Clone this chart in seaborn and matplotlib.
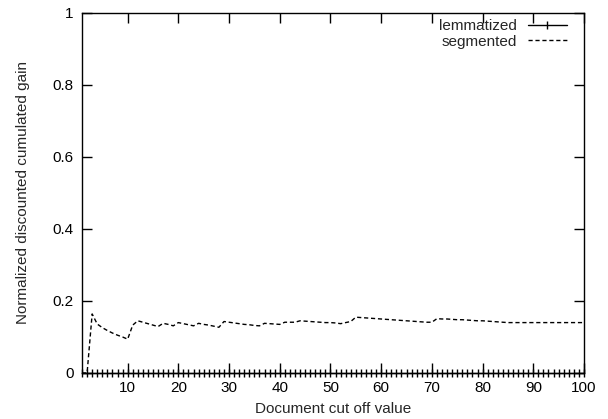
import numpy as np
import pandas as pd
import matplotlib
matplotlib.use("Agg")
import matplotlib.pyplot as plt
import seaborn as sns
from matplotlib.ticker import FuncFormatter

# document cut off values 1..100
cutoff = list(range(1, 101))

# lemmatized run scored zero everywhere
lemmatized = [0.0] * 100

# segmented run
segmented = [
    0.000, 0.000, 0.164, 0.136, 0.126, 0.118, 0.111, 0.105, 0.100, 0.094,
    0.133, 0.145, 0.141, 0.137, 0.133, 0.129, 0.138, 0.135, 0.131, 0.140,
    0.137, 0.134, 0.131, 0.138, 0.135, 0.133, 0.130, 0.127, 0.143, 0.141,
    0.139, 0.137, 0.135, 0.134, 0.132, 0.131, 0.138, 0.137, 0.136, 0.135,
    0.141, 0.141, 0.141, 0.145, 0.144, 0.143, 0.142, 0.141, 0.140, 0.140,
    0.139, 0.137, 0.140, 0.143, 0.155, 0.154, 0.153, 0.152, 0.151, 0.150,
    0.149, 0.148, 0.147, 0.146, 0.145, 0.144, 0.143, 0.142, 0.141, 0.141,
    0.151, 0.150, 0.150, 0.149, 0.148, 0.148, 0.147, 0.146, 0.145, 0.145,
    0.144, 0.143, 0.142, 0.141, 0.140, 0.140, 0.140, 0.140, 0.140, 0.140,
    0.140, 0.140, 0.140, 0.140, 0.140, 0.140, 0.140, 0.140, 0.140, 0.140,
]

x_ticks = [10, 20, 30, 40, 50, 60, 70, 80, 90, 100]
y_ticks = [0, 0.2, 0.4, 0.6, 0.8, 1.0]

sns.set_style("ticks")
plt.rcParams['font.family'] = ['Liberation Sans', 'DejaVu Sans']
plt.rcParams['font.size'] = 11

df = pd.DataFrame({"cutoff": cutoff, "lemmatized": lemmatized, "segmented": segmented})

fig = plt.figure(figsize=(6.08, 4.19), dpi=100)
ax = fig.add_axes([0.1349, 0.1098, 0.8256, 0.8592])

sns.lineplot(data=df, x="cutoff", y="segmented", ax=ax, color="black", lw=1,
             label="segmented")
ax.lines[0].set_dashes((3, 2))
sns.lineplot(data=df, x="cutoff", y="lemmatized", ax=ax, color="black", lw=1,
             marker="|", markersize=5.5, markeredgewidth=1,
             markeredgecolor="black", label="lemmatized")
ax.lines[1].set_clip_on(False)
ax.lines[1].set_zorder(5)

ax.set_xlim(1, 100)
ax.set_ylim(0, 1)
ax.set_xticks(x_ticks)
ax.set_yticks(y_ticks)
ax.yaxis.set_major_formatter(FuncFormatter(lambda v, p: "%g" % v))
ax.tick_params(direction="in", length=7, width=1, top=True, right=True,
               labelsize=11, colors="black", pad=6)
for s in ax.spines.values():
    s.set_linewidth(1)
    s.set_color("black")

ax.set_xlabel("Document cut off value", fontsize=11, labelpad=5)
ax.set_ylabel("Normalized discounted cumulated gain", fontsize=11, labelpad=16)

handles, labels = ax.get_legend_handles_labels()
order = [labels.index("lemmatized"), labels.index("segmented")]
leg = ax.legend([handles[i] for i in order], [labels[i] for i in order],
                loc="upper right", frameon=False, markerfirst=False,
                handlelength=2.6, handletextpad=0.7, borderaxespad=0.2,
                labelspacing=0.1, fontsize=11, bbox_to_anchor=(0.985, 1.008))
leg.get_lines()[0].set_marker("|")
leg.get_lines()[0].set_markeredgecolor("black")
leg.get_lines()[0].set_markevery([1])
leg.get_lines()[1].set_dashes((3, 2))

fig.savefig("out.png", dpi=100)
